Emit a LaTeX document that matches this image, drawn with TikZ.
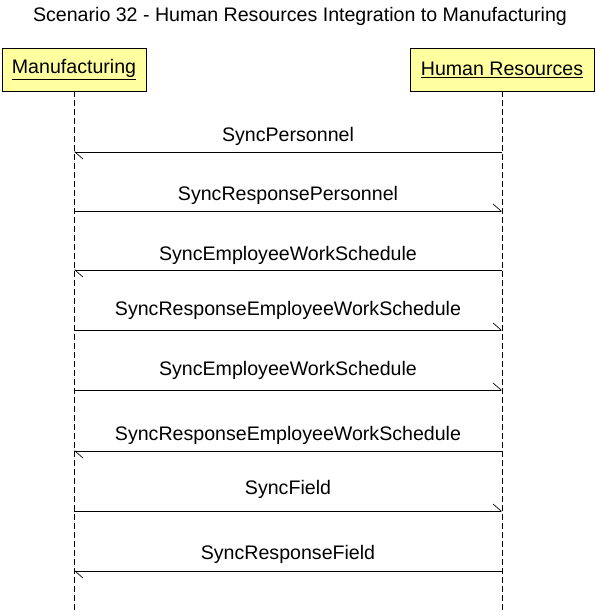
\documentclass[tikz,border=0pt]{standalone}
\usepackage{fontspec}
\setmainfont{Liberation Sans}
\usetikzlibrary{arrows.meta}

\definecolor{actoryellow}{RGB}{255,255,160}

\begin{document}
\begin{tikzpicture}[x=1pt,y=-1pt,
    font=\fontsize{19.6}{22}\selectfont,
    actor/.style={draw,fill=actoryellow,minimum height=43pt,inner sep=0pt},
    lifeline/.style={dash pattern=on 6pt off 3pt,line width=0.7pt},
    msg/.style={-{Straight Barb[left,length=8pt,width=14pt]},line width=0.7pt},
    msglabel/.style={anchor=base}]
    \useasboundingbox (0,0) rectangle (596,613);
    % title
    \node [msglabel] (title) at (300,21) {Scenario 32 - Human Resources Integration to Manufacturing};
    % actors
    \node [actor,minimum width=144pt] (mfg) at (74,69.5) {\underline{Manufacturing}};
    \node [actor,minimum width=184pt] (hr) at (502,69.5) {\underline{Human Resources}};
    \coordinate (mfgend) at (mfg.south |- 0,613);
    \coordinate (hrend) at (hr.south |- 0,613);
    \draw [lifeline] (mfg) -- (mfgend);
    \draw [lifeline] (hr) -- (hrend);
    % messages
    \coordinate (m1a) at (mfg |- 0,152); \coordinate (m1b) at (hr |- 0,152);
    \coordinate (m2a) at (mfg |- 0,211); \coordinate (m2b) at (hr |- 0,211);
    \coordinate (m3a) at (mfg |- 0,270); \coordinate (m3b) at (hr |- 0,270);
    \coordinate (m4a) at (mfg |- 0,330); \coordinate (m4b) at (hr |- 0,330);
    \coordinate (m5a) at (mfg |- 0,390); \coordinate (m5b) at (hr |- 0,390);
    \coordinate (m6a) at (mfg |- 0,451); \coordinate (m6b) at (hr |- 0,451);
    \coordinate (m7a) at (mfg |- 0,511); \coordinate (m7b) at (hr |- 0,511);
    \coordinate (m8a) at (mfg |- 0,571); \coordinate (m8b) at (hr |- 0,571);
    \draw [msg] (m1b) -- (m1a);
    \draw [msg] (m2a) -- (m2b);
    \draw [msg] (m3b) -- (m3a);
    \draw [msg] (m4a) -- (m4b);
    \draw [msg] (m5a) -- (m5b);
    \draw [msg] (m6b) -- (m6a);
    \draw [msg] (m7a) -- (m7b);
    \draw [msg] (m8b) -- (m8a);
    \node [msglabel] (l1) at (288,141) {SyncPersonnel};
    \node [msglabel] (l2) at (288,200) {SyncResponsePersonnel};
    \node [msglabel] (l3) at (288,260) {SyncEmployeeWorkSchedule};
    \node [msglabel] (l4) at (288,315) {SyncResponseEmployeeWorkSchedule};
    \node [msglabel] (l5) at (288,375) {SyncEmployeeWorkSchedule};
    \node [msglabel] (l6) at (288,440) {SyncResponseEmployeeWorkSchedule};
    \node [msglabel] (l7) at (288,494) {SyncField};
    \node [msglabel] (l8) at (288,559) {SyncResponseField};
\end{tikzpicture}
\end{document}
